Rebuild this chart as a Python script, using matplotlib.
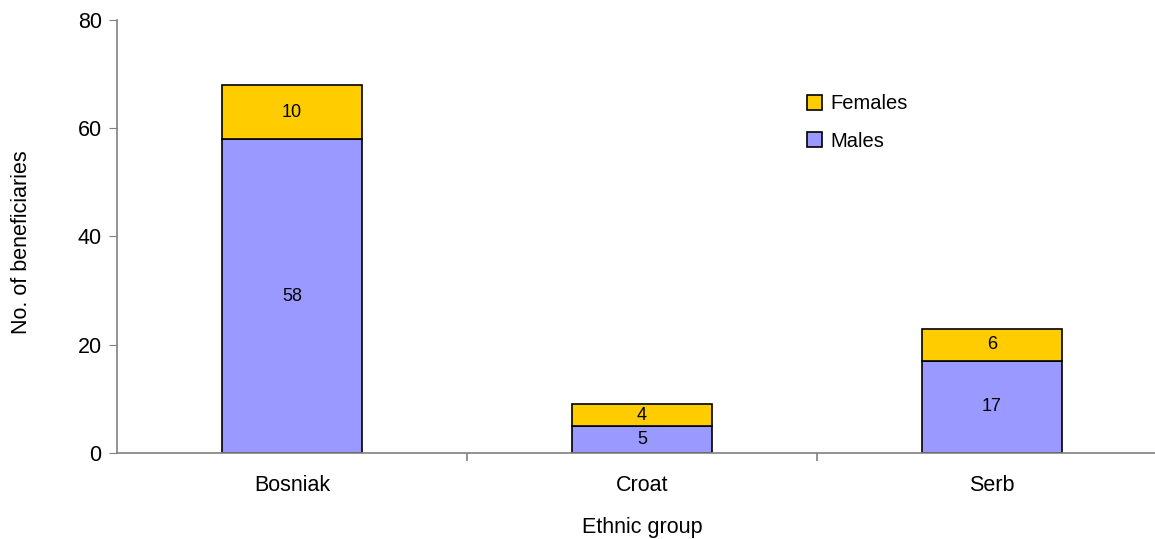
import matplotlib
matplotlib.use('Agg')
import matplotlib.pyplot as plt
import numpy as np

plt.rcParams['font.family'] = ['Liberation Sans', 'DejaVu Sans']

groups = ["Bosniak", "Croat", "Serb"]
males = [58, 5, 17]
females = [10, 4, 6]
y_ticks = [0, 20, 40, 60, 80]

MALE_COLOR = '#9999FF'
FEMALE_COLOR = '#FFCC00'
AXIS_COLOR = '#808080'

fig = plt.figure(figsize=(11.55, 5.39), dpi=100)
ax = fig.add_axes([117 / 1155, 86 / 539, 1050 / 1155, 433 / 539])

x = np.arange(len(groups))
b_m = ax.bar(x, males, width=0.4, color=MALE_COLOR, edgecolor='black', linewidth=1.2, label='Males')
b_f = ax.bar(x, females, width=0.4, bottom=males, color=FEMALE_COLOR, edgecolor='black',
             linewidth=1.2, label='Females')

# segment values in the middle of each piece
for xi, m, f in zip(x, males, females):
    ax.text(xi, m / 2, str(m), ha='center', va='center', fontsize=13)
    ax.text(xi, m + f / 2, str(f), ha='center', va='center', fontsize=13)

ax.set_xlim(-0.5, len(groups) - 0.5)
ax.set_ylim(0, 80)
ax.set_yticks(y_ticks)
ax.tick_params(axis='y', labelsize=15.5, direction='out', length=6, color=AXIS_COLOR, pad=5)

# category labels centred, tick marks between categories
ax.set_xticks(x)
ax.set_xticklabels(groups, fontsize=15.5)
ax.tick_params(axis='x', which='major', length=0, pad=16)
ax.set_xticks(np.arange(len(groups)) + 0.5, minor=True)
ax.tick_params(axis='x', which='minor', direction='out', length=6, color=AXIS_COLOR, width=1.2)

for side in ['top', 'right']:
    ax.spines[side].set_visible(False)
for side in ['left', 'bottom']:
    ax.spines[side].set_color(AXIS_COLOR)
    ax.spines[side].set_linewidth(1.2)

ax.set_xlabel('Ethnic group', fontsize=15.5, labelpad=15)
ax.set_ylabel('No. of beneficiaries', fontsize=15.5, labelpad=33)
ax.yaxis.label.set_y(0.486)

leg = ax.legend([b_f, b_m], ['Females', 'Males'], frameon=False, fontsize=14.5,
                loc='upper left', bbox_to_anchor=(0.64, 0.87), handlelength=0.75,
                handleheight=0.75, handletextpad=0.4, labelspacing=0.9)

plt.savefig('out.png', dpi=100)
